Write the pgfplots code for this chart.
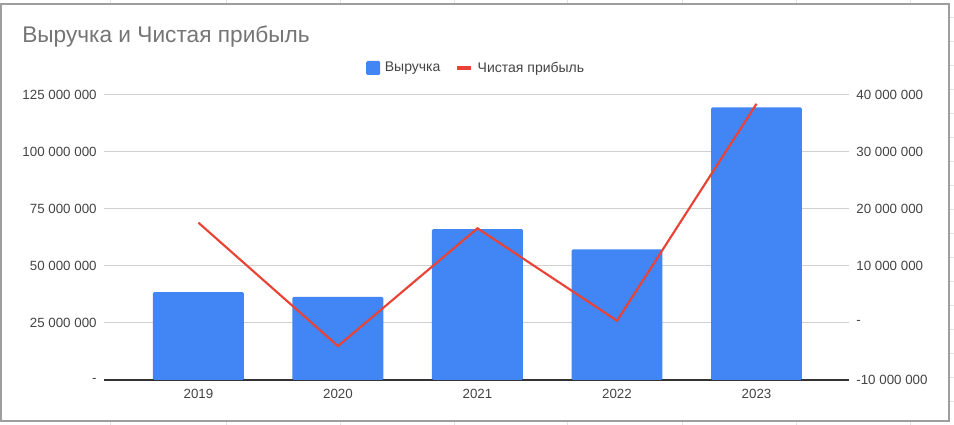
\documentclass[border=0pt]{standalone}
\usepackage{pgfplots}
\pgfplotsset{compat=1.18}
\usepackage{fontspec}
\setmainfont{Liberation Sans}
\definecolor{gblue}{HTML}{4285F4}
\definecolor{gred}{HTML}{EA4335}
\definecolor{tickc}{HTML}{444444}
\definecolor{titlegray}{HTML}{757575}
\definecolor{gridc}{HTML}{D0D0D0}
\definecolor{axc}{HTML}{333333}
\definecolor{framec}{HTML}{9E9E9E}
\definecolor{cellc}{HTML}{E2E2E2}
\begin{document}
\begin{tikzpicture}[x=0.75pt,y=0.75pt]
\useasboundingbox (0,0) rectangle (954,425);
\foreach \xx in {110,226,340,454,567,682,796,910} {
  \draw[cellc,line width=0.75pt] (\xx,421) -- (\xx,425);
  \draw[cellc,line width=0.75pt] (\xx,0) -- (\xx,4);
}
\foreach \yy in {407,383,...,20} {
  \draw[cellc,line width=0.75pt] (949,\yy) -- (954,\yy);
}
\fill[white] (1,4) rectangle (949,421);
\draw[framec,line width=1.5pt] (1,4) rectangle (949,421);
\node[anchor=base west,inner sep=0pt,font=\fontsize{17}{20}\selectfont,text=titlegray] at (22,382) {Выручка и Чистая прибыль};

\begin{axis}[
  at={(78pt,33.75pt)}, anchor=south west,
  scale only axis, width=558.75pt, height=214pt,
  xmin=-0.677, xmax=4.663,
  ymin=0, ymax=125000000,
  xtick={0,1,2,3,4}, xticklabels={2019,2020,2021,2022,2023},
  ytick={0,25000000,50000000,75000000,100000000,125000000},
  yticklabels={{-},{25 000 000},{50 000 000},{75 000 000},{100 000 000},{125 000 000}},
  scaled y ticks=false,
  axis x line*=bottom, axis y line*=left,
  x axis line style={axc,line width=0.8pt,-},
  y axis line style={draw=none},
  major tick length=0pt,
  ymajorgrids, grid style={gridc,line width=0.75pt},
  tick label style={font=\fontsize{10}{12}\selectfont,text=tickc},
  yticklabel style={xshift=-2pt},
  xticklabel style={yshift=-3pt},
  legend style={at={(0.5,1)},anchor=center,yshift=20pt,draw=none,fill=none,
    font=\fontsize{10.5}{12}\selectfont,text=tickc,legend columns=-1,
    /tikz/every odd column/.append style={column sep=1.5pt},
    /tikz/every even column/.append style={column sep=9pt}},
  clip=false,
]
\addplot[ybar,bar width=0.652,bar shift=0pt,fill=gblue,draw=none,rounded corners=1pt,
  legend image code/.code={\fill[gblue,rounded corners=1pt] (0pt,-5.25pt) rectangle (10.5pt,5.25pt);}]
  coordinates {(0,38500000) (1,36400000) (2,66100000) (3,57200000) (4,119400000)};
\addlegendentry{Выручка}
\addlegendimage{legend image code/.code={\draw[gred,line width=3pt] (0pt,0pt) -- (10.5pt,0pt);}}
\addlegendentry{Чистая прибыль}
\end{axis}

\begin{axis}[
  at={(78pt,33.75pt)}, anchor=south west,
  scale only axis, width=558.75pt, height=214pt,
  xmin=-0.677, xmax=4.663,
  ymin=-10000000, ymax=40000000,
  axis x line=none, axis y line*=right,
  y axis line style={draw=none},
  major tick length=0pt,
  ytick={-10000000,0,10000000,20000000,30000000,40000000},
  yticklabels={{-10 000 000},{-},{10 000 000},{20 000 000},{30 000 000},{40 000 000}},
  scaled y ticks=false,
  tick label style={font=\fontsize{10}{12}\selectfont,text=tickc},
  yticklabel style={xshift=2pt},
  clip=false,
]
\addplot[gred,line width=1.6pt,mark=none]
  coordinates {(0,17560000) (1,-4050000) (2,16580000) (3,390000) (4,38400000)};
\end{axis}
\end{tikzpicture}
\end{document}
